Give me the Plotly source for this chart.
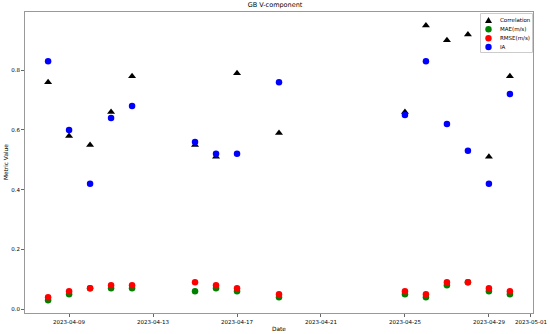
import plotly.graph_objects as go

dates = ["2023-04-08", "2023-04-09", "2023-04-10", "2023-04-11", "2023-04-12",
         "2023-04-15", "2023-04-16", "2023-04-17", "2023-04-19",
         "2023-04-25", "2023-04-26", "2023-04-27", "2023-04-28", "2023-04-29", "2023-04-30"]
correlation = [0.76, 0.58, 0.55, 0.66, 0.78, 0.55, 0.51, 0.79, 0.59, 0.66, 0.95, 0.90, 0.92, 0.51, 0.78]
mae = [0.03, 0.05, 0.07, 0.07, 0.07, 0.06, 0.07, 0.06, 0.04, 0.05, 0.04, 0.08, 0.09, 0.06, 0.05]
rmse = [0.04, 0.06, 0.07, 0.08, 0.08, 0.09, 0.08, 0.07, 0.05, 0.06, 0.05, 0.09, 0.09, 0.07, 0.06]
ia = [0.83, 0.60, 0.42, 0.64, 0.68, 0.56, 0.52, 0.52, 0.76, 0.65, 0.83, 0.62, 0.53, 0.42, 0.72]

series_names = ["Correlation", "MAE(m/s)", "RMSE(m/s)", "IA"]
series_colors = ["black", "green", "red", "blue"]
series_symbols = ["triangle-up", "circle", "circle", "circle"]
series_values = [correlation, mae, rmse, ia]

x_ticks = ["2023-04-09", "2023-04-13", "2023-04-17", "2023-04-21", "2023-04-25", "2023-04-29", "2023-05-01"]
y_ticks = [0.0, 0.2, 0.4, 0.6, 0.8]

font = "DejaVu Sans"
fig = go.Figure()
for name, color, sym, vals in zip(series_names, series_colors, series_symbols, series_values):
    fig.add_trace(go.Scatter(x=dates, y=vals, mode="markers", name=name,
                             marker=dict(symbol=sym, color=color,
                                         size=7 if sym == "triangle-up" else 6.5,
                                         line=dict(width=0))))

# compact matplotlib-style legend (paper coordinates)
W, H, L, T = 508.0, 301.0, 25.0, 12.0
def px(x):
    return (x - L) / W
def py(y):
    return (T + H - y) / H

shapes = [dict(type="rect", xref="paper", yref="paper",
               x0=px(480.5), x1=px(532.5), y0=py(52.5), y1=py(13.5),
               line=dict(color="#cccccc", width=1), fillcolor="rgba(255,255,255,0.8)",
               layer="above")]
annotations = []
row_y = [20.3, 29.2, 38.2, 47.0]
for i, (name, color, sym) in enumerate(zip(series_names, series_colors, series_symbols)):
    common = dict(xref="paper", yref="paper", xsizemode="pixel", ysizemode="pixel",
                  xanchor=px(488.5), yanchor=py(row_y[i]), fillcolor=color,
                  line=dict(width=0), layer="above")
    if sym == "triangle-up":
        shapes.append(dict(type="path", path="M -3.5,-2.8 L 3.5,-2.8 L 0,3.4 Z", **common))
    else:
        shapes.append(dict(type="circle", x0=-3.2, x1=3.2, y0=-3.2, y1=3.2, **common))
    annotations.append(dict(text=name, xref="paper", yref="paper", x=px(497.5), y=py(row_y[i]),
                            xanchor="left", yanchor="middle", showarrow=False,
                            font=dict(size=5.5, color="black", family=font)))
annotations += [
    dict(text="Date", xref="paper", yref="paper", x=0.5, y=py(324), xanchor="center",
         yanchor="top", showarrow=False, font=dict(size=5.8, family=font)),
    dict(text="Metric Value", xref="paper", yref="paper", x=px(5.5), y=0.5,
         xanchor="center", yanchor="middle", textangle=-90, showarrow=False,
         font=dict(size=5.8, family=font)),
]

fig.update_layout(
    width=550, height=334,
    margin=dict(l=25, r=17, t=12, b=21),
    paper_bgcolor="white", plot_bgcolor="white",
    font=dict(family=font, size=5.5, color="black"),
    title=dict(text="GB V-component", x=px(279), xanchor="center", y=1 - 2 / 334, yanchor="top",
               font=dict(size=6.5, family=font)),
    showlegend=False,
    shapes=shapes,
    annotations=annotations,
)
fig.update_xaxes(
    type="date", range=["2023-04-06 21:36", "2023-05-01 02:24"], automargin=False,
    tickvals=x_ticks, ticktext=x_ticks,
    showgrid=False, zeroline=False, showline=True, linecolor="#999999", linewidth=1, mirror=True,
    ticks="outside", ticklen=3, tickcolor="#666666", tickfont=dict(size=5.5),
)
fig.update_yaxes(
    range=[-0.013, 0.995], automargin=False,
    tickvals=y_ticks, ticktext=[f"{v:.1f}" for v in y_ticks],
    showgrid=False, zeroline=False, showline=True, linecolor="#999999", linewidth=1, mirror=True,
    ticks="outside", ticklen=3, tickcolor="#666666", tickfont=dict(size=5.5),
)

fig.write_html("out.html", config={"displayModeBar": False},
               post_script="document.body.style.margin='0px';")
